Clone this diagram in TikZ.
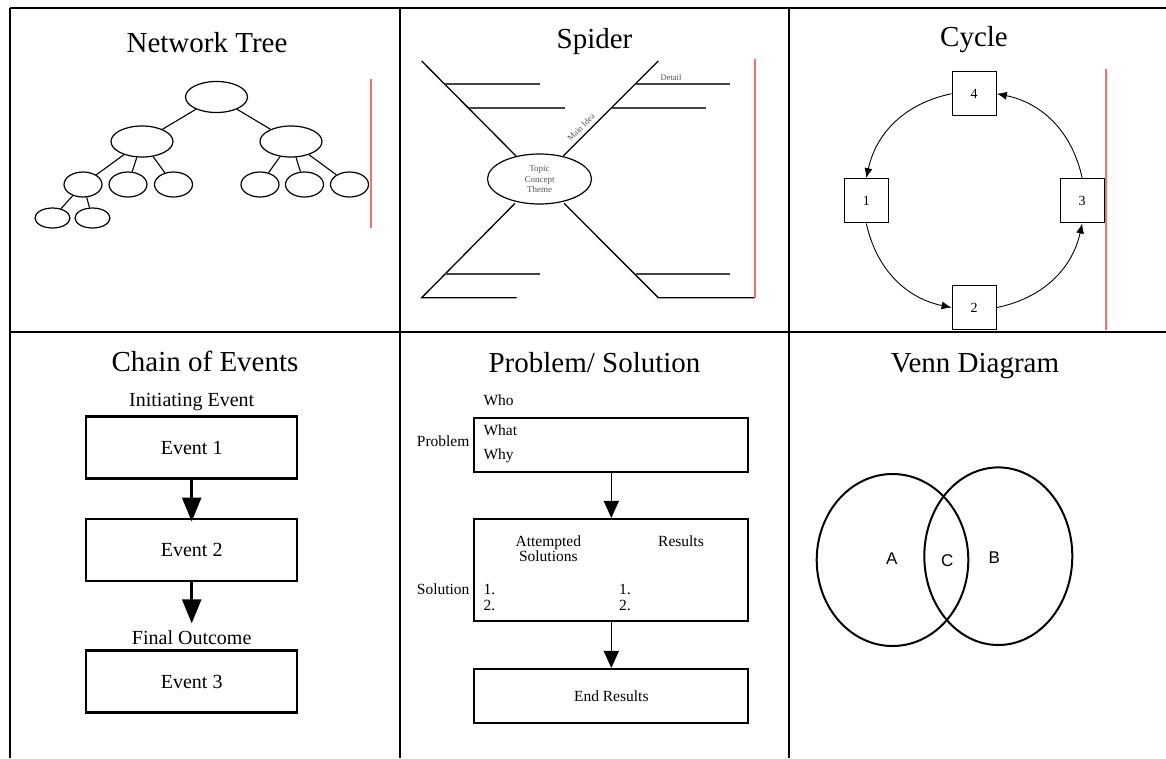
\documentclass[tikz,border=0pt]{standalone}
\usepackage{fontspec}
\setmainfont{Liberation Serif}
\newfontfamily\vennfont{Liberation Sans}
\usetikzlibrary{arrows.meta,shapes.geometric}
\definecolor{redline}{HTML}{F07070}
\definecolor{detailgray}{HTML}{444444}
\definecolor{smallgray}{HTML}{555555}
\begin{document}
\begin{tikzpicture}[x=1pt,y=-1pt,
  gridline/.style={line width=2.5pt},
  title/.style={anchor=base,font=\fontsize{29}{34}\selectfont},
  tnode/.style={draw,ellipse,line width=1.2pt,inner sep=0pt},
  tbig/.style={tnode,minimum width=62pt,minimum height=31pt},
  tmid/.style={tnode,minimum width=38pt,minimum height=25pt},
  tsmall/.style={tnode,minimum width=35pt,minimum height=20pt},
  tedge/.style={line width=1.1pt},
  redmark/.style={draw=redline,line width=1.1pt},
  spmain/.style={line width=1.3pt},
  spdetail/.style={draw=detailgray,line width=1.8pt},
  cbox/.style={draw,rectangle,minimum width=44pt,minimum height=44pt,inner sep=0pt,line width=1.3pt,font=\fontsize{14}{16}\selectfont},
  carrow/.style={line width=0.9pt,-{Latex[length=10pt,width=8pt]}},
  ebox/.style={draw,rectangle,minimum width=211pt,minimum height=62pt,inner sep=0pt,line width=2.5pt,font=\fontsize{20}{24}\selectfont},
  elabel/.style={anchor=base,font=\fontsize{20}{24}\selectfont},
  earrow/.style={line width=2.5pt,-{Triangle[length=24pt,width=19pt]}},
  pbox/.style={draw,rectangle,minimum width=274pt,inner sep=0pt,line width=2pt},
  ptext/.style={anchor=base west,font=\fontsize{15.5}{16}\selectfont,inner sep=0pt},
  pctext/.style={anchor=base,font=\fontsize{15.5}{16}\selectfont,inner sep=0pt},
  parrow/.style={line width=1.6pt,-{Triangle[length=17pt,width=15pt]}},
  vset/.style={draw,ellipse,line width=2pt,inner sep=0pt},
  vlabel/.style={font=\vennfont\fontsize{17}{20}\selectfont,inner sep=0pt}
]
\useasboundingbox (0,0) rectangle (1166,758);
% table grid
\draw[gridline] (10,8) -- (1166,8);
\draw[gridline] (10,332) -- (1166,332);
\draw[gridline] (10,8) -- (10,758);
\draw[gridline] (400,8) -- (400,758);
\draw[gridline] (789,8) -- (789,758);

% titles
\node[title] (h1) at (207,52) {Network Tree};
\node[title] (h2) at (594.5,48) {Spider};
\node[title] (h3) at (974,46) {Cycle};
\node[title] (h4) at (205,371) {Chain of Events};
\node[title] (h5) at (594.5,372) {Problem/ Solution};
\node[title] (h6) at (975,372) {Venn Diagram};

% ---------- Network tree
\node[tbig] (t0) at (216.5,97) {};
\node[tbig] (t1) at (142,141.5) {};
\node[tbig] (t2) at (291,141.5) {};
\node[tmid] (t11) at (83,184.5) {};
\node[tmid] (t12) at (128,184.5) {};
\node[tmid] (t13) at (173.5,184.5) {};
\node[tmid] (t21) at (260,184.5) {};
\node[tmid] (t22) at (304.5,184.5) {};
\node[tmid] (t23) at (349.5,184.5) {};
\node[tsmall] (t111) at (52.5,218) {};
\node[tsmall] (t112) at (92.5,218) {};
\draw[tedge] (t0) -- (t1);
\draw[tedge] (t0) -- (t2);
\draw[tedge] (t1) -- (t11);
\draw[tedge] (t1) -- (t12);
\draw[tedge] (t1) -- (t13);
\draw[tedge] (t2) -- (t21);
\draw[tedge] (t2) -- (t22);
\draw[tedge] (t2) -- (t23);
\draw[tedge] (t11) -- (t111);
\draw[tedge] (t11) -- (t112);
\draw[redmark] (371,79) -- (371,228);

% ---------- Spider
\node[draw,ellipse,line width=1.2pt,minimum width=104pt,minimum height=50pt,inner sep=0pt] (sp) at (539.5,179) {};
\node[align=center,text=smallgray,font=\fontsize{9}{10.5}\selectfont,inner sep=0pt] (sptext) at (539.5,179.5) {Topic\\Concept\\Theme};
\draw[spmain] (421.7,61) -- (516.7,156.7);
\draw[spmain] (515,203.3) -- (421.7,297.7) -- (516.7,297.7);
\draw[spmain] (563.3,156) -- (658.3,61);
\draw[spmain] (564,203.3) -- (658.3,297.7) -- (755,297.7);
\draw[spdetail] (445,84.3) -- (540,84.3);
\draw[spdetail] (469,107.7) -- (565,107.7);
\draw[spdetail] (635.7,84.3) -- (730,84.3);
\draw[spdetail] (611.7,107.7) -- (705.7,107.7);
\draw[spdetail] (445,274.3) -- (540,274.3);
\draw[spdetail] (635.7,274.3) -- (730,274.3);
\node[rotate=45,text=smallgray,font=\fontsize{8.5}{10}\selectfont,inner sep=0pt] (mainidea) at (581,127.5) {Main Idea};
\node[text=smallgray,font=\fontsize{8.5}{10}\selectfont,inner sep=0pt] (detail) at (671,77.5) {Detail};
\draw[redmark] (755,59.3) -- (755,297.7);

% ---------- Cycle
\node[cbox] (c4) at (974.2,93.7) {4};
\node[cbox] (c1) at (866.3,200.8) {1};
\node[cbox] (c3) at (1082.2,200.8) {3};
\node[cbox] (c2) at (974.2,307.5) {2};
\draw[carrow] (c4.west) to[bend right=33] (c1.north);
\draw[carrow] (c1.south) to[bend right=33] (c2.west);
\draw[carrow] (c2.east) to[bend right=33] (c3.south);
\draw[carrow] (c3.north) to[bend right=33] (c4.east);
\draw[redmark] (1106,69) -- (1106,330);

% ---------- Chain of events
\node[elabel] (init) at (191.7,406) {Initiating Event};
\node[ebox] (e1) at (191.7,447.5) {Event 1};
\node[ebox] (e2) at (191.7,549.8) {Event 2};
\node[elabel] (final) at (191.7,644) {Final Outcome};
\node[ebox] (e3) at (191.7,681.5) {Event 3};
\coordinate (e2end) at (191.7,623.3);
\draw[earrow] (e1.south) -- ([yshift=-4pt]e2.north);
\draw[earrow] (e2.south) -- (e2end);

% ---------- Problem / Solution
\node[pbox,minimum height=54pt] (pb1) at (611.3,444.7) {};
\node[pbox,minimum height=101.7pt] (pb2) at (611.3,569.8) {};
\node[pbox,minimum height=53.7pt,font=\fontsize{15.5}{16}\selectfont] (pb3) at (611.3,695.8) {End Results};
\node[ptext] (who) at (483.3,405) {Who};
\node[ptext] (what) at (483.3,435) {What};
\node[ptext] (why) at (483.3,459.3) {Why};
\node[ptext] (problem) at (416.7,446) {Problem};
\node[pctext] (attempted) at (548.3,546) {Attempted};
\node[pctext] (solutions) at (548.3,561.7) {Solutions};
\node[pctext] (results) at (681,546) {Results};
\node[ptext] (solution) at (416.7,594.3) {Solution};
\node[ptext] (l1) at (483.3,594.3) {1.};
\node[ptext] (l2) at (483.3,610.7) {2.};
\node[ptext] (r1) at (619,594.3) {1.};
\node[ptext] (r2) at (619,610.7) {2.};
\draw[parrow] (pb1.south) -- (pb2.north);
\draw[parrow] (pb2.south) -- (pb3.north);

% ---------- Venn
\node[vset,minimum width=151.6pt,minimum height=172pt] (va) at (892.5,560) {};
\node[vset,minimum width=148pt,minimum height=177.6pt] (vb) at (998.3,556.2) {};
\node[vlabel] (la) at (891.7,558.3) {A};
\node[vlabel] (lc) at (947.3,561) {C};
\node[vlabel] (lb) at (994.3,557.7) {B};
\end{tikzpicture}
\end{document}
